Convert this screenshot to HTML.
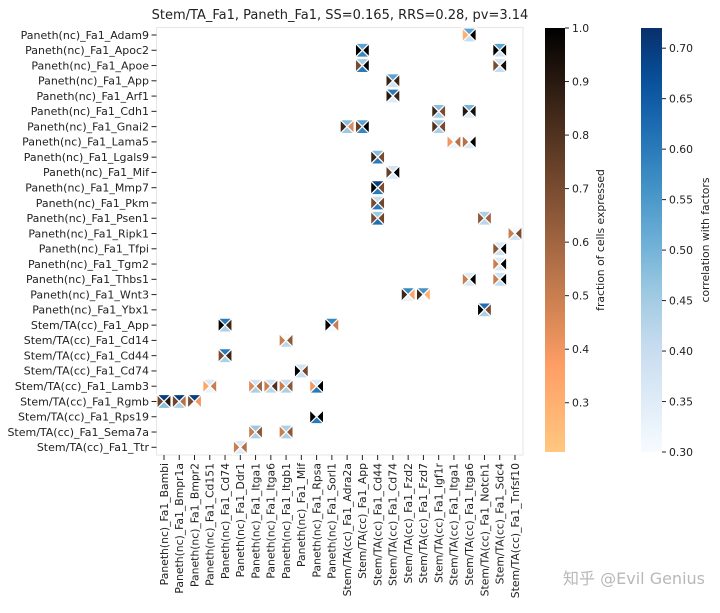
<!DOCTYPE html>
<html><head><meta charset="utf-8"><style>
html,body{margin:0;padding:0;background:#fff;}
svg text{font-family:"DejaVu Sans","Liberation Sans","Noto Sans CJK SC",sans-serif;fill:#222;}
</style></head><body>
<svg id="chart" width="720" height="608" viewBox="0 0 720 608" xmlns="http://www.w3.org/2000/svg">
<text x="340" y="19" font-size="13" text-anchor="middle">Stem/TA_Fa1, Paneth_Fa1, SS=0.165, RRS=0.28, pv=3.14</text>
<rect x="156.5" y="27.5" width="366.5" height="427.5" fill="none" stroke="#e6e6e6" stroke-width="1"/>
<g id="cells"></g><g id="yaxis"></g><g id="xaxis"></g><g id="cbars"></g>
<text x="705" y="584" font-size="16" text-anchor="end" style="fill:#b8b8b8">知乎 @Evil Genius</text>
</svg>
<script>
const rowLabels=["Paneth(nc)_Fa1_Adam9","Paneth(nc)_Fa1_Apoc2","Paneth(nc)_Fa1_Apoe","Paneth(nc)_Fa1_App","Paneth(nc)_Fa1_Arf1","Paneth(nc)_Fa1_Cdh1","Paneth(nc)_Fa1_Gnai2","Paneth(nc)_Fa1_Lama5","Paneth(nc)_Fa1_Lgals9","Paneth(nc)_Fa1_Mif","Paneth(nc)_Fa1_Mmp7","Paneth(nc)_Fa1_Pkm","Paneth(nc)_Fa1_Psen1","Paneth(nc)_Fa1_Ripk1","Paneth(nc)_Fa1_Tfpi","Paneth(nc)_Fa1_Tgm2","Paneth(nc)_Fa1_Thbs1","Paneth(nc)_Fa1_Wnt3","Paneth(nc)_Fa1_Ybx1","Stem/TA(cc)_Fa1_App","Stem/TA(cc)_Fa1_Cd14","Stem/TA(cc)_Fa1_Cd44","Stem/TA(cc)_Fa1_Cd74","Stem/TA(cc)_Fa1_Lamb3","Stem/TA(cc)_Fa1_Rgmb","Stem/TA(cc)_Fa1_Rps19","Stem/TA(cc)_Fa1_Sema7a","Stem/TA(cc)_Fa1_Ttr"];
const colLabels=["Paneth(nc)_Fa1_Bambi","Paneth(nc)_Fa1_Bmpr1a","Paneth(nc)_Fa1_Bmpr2","Paneth(nc)_Fa1_Cd151","Paneth(nc)_Fa1_Cd74","Paneth(nc)_Fa1_Ddr1","Paneth(nc)_Fa1_Itga1","Paneth(nc)_Fa1_Itga6","Paneth(nc)_Fa1_Itgb1","Paneth(nc)_Fa1_Mif","Paneth(nc)_Fa1_Rpsa","Paneth(nc)_Fa1_Sorl1","Stem/TA(cc)_Fa1_Adra2a","Stem/TA(cc)_Fa1_App","Stem/TA(cc)_Fa1_Cd44","Stem/TA(cc)_Fa1_Cd74","Stem/TA(cc)_Fa1_Fzd2","Stem/TA(cc)_Fa1_Fzd7","Stem/TA(cc)_Fa1_Igf1r","Stem/TA(cc)_Fa1_Itga1","Stem/TA(cc)_Fa1_Itga6","Stem/TA(cc)_Fa1_Notch1","Stem/TA(cc)_Fa1_Sdc4","Stem/TA(cc)_Fa1_Tnfsf10"];
const cellRow=[0,1,1,2,2,3,4,5,5,6,6,6,7,7,8,9,10,11,12,12,13,14,15,16,16,17,17,18,19,19,20,21,22,23,23,23,23,23,24,24,24,25,26,26,27];
const cellCol=[20,13,22,13,22,15,15,18,20,12,13,18,19,20,14,15,14,14,14,21,23,22,22,20,22,16,17,21,4,11,8,4,9,3,6,7,8,10,0,1,2,10,6,8,5];
const fracLeft=[0.3,1.0,1.0,0.7,0.7,0.85,0.9,0.85,0.9,0.85,0.75,0.8,0.4,0.55,0.85,0.75,1.0,0.7,0.7,0.65,0.5,0.65,0.5,0.5,0.5,0.85,0.85,1.0,1.0,1.0,0.5,0.7,1.0,0.35,0.45,0.5,0.5,0.4,0.72,0.72,0.7,1.0,0.5,0.5,0.5];
const fracRight=[1.0,1.0,1.0,1.0,0.95,0.85,0.85,0.7,0.95,0.45,1.0,0.7,0.55,1.0,0.7,1.0,0.7,0.72,0.72,0.6,0.7,1.0,1.0,1.0,1.0,0.35,0.3,0.7,0.85,0.5,0.65,0.85,0.72,0.5,0.6,0.8,0.65,1.0,0.9,0.55,0.4,1.0,0.65,0.65,0.55];
const corrTop=[0.53,0.53,0.53,0.45,0.38,0.53,0.6,0.48,0.5,0.48,0.53,0.46,0.3,0.3,0.48,0.38,0.7,0.4,0.46,0.44,0.3,0.36,0.35,0.35,0.38,0.58,0.56,0.62,0.6,0.58,0.3,0.6,0.38,0.36,0.38,0.38,0.4,0.36,0.7,0.7,0.7,0.3,0.46,0.44,0.36];
const corrBottom=[0.4,0.58,0.38,0.6,0.4,0.38,0.35,0.44,0.35,0.46,0.58,0.44,0.32,0.36,0.6,0.36,0.6,0.6,0.62,0.42,0.38,0.38,0.36,0.36,0.4,0.33,0.3,0.44,0.44,0.3,0.42,0.44,0.4,0.32,0.44,0.42,0.44,0.6,0.48,0.44,0.3,0.6,0.44,0.44,0.35];
const fracTicks=["1.0","0.9","0.8","0.7","0.6","0.5","0.4","0.3"];
const corrTicks=["0.70","0.65","0.60","0.55","0.50","0.45","0.40","0.35","0.30"];

const NS="http://www.w3.org/2000/svg";
function mk(tag,attrs,parent){const e=document.createElementNS(NS,tag);for(const k in attrs)e.setAttribute(k,attrs[k]);parent.appendChild(e);return e;}
const x0=164,dx=15.26,y0=35,dy=15.27,half=7;
const xPos=i=>x0+dx*i, yPos=j=>y0+dy*j;
const fMin=0.208,fMax=1.0,cMin=0.30,cMax=0.72;
const cbTop=28,cbBot=452;
function lerpHex(stops,t){t=Math.max(0,Math.min(1,t));const n=stops.length-1;const p=t*n;const i=Math.min(n-1,Math.floor(p));const f=p-i;
 const a=stops[i],b=stops[i+1];return "rgb("+[0,1,2].map(k=>Math.round(a[k]+(b[k]-a[k])*f)).join(",")+")";}
const copperStops=[];for(let k=0;k<=10;k++){const x=1-k/10;copperStops.push([Math.min(255,255*1.25*x),255*0.7812*x,255*0.4975*x]);}
const bluesStops=[[247,251,255],[222,235,247],[198,219,239],[158,202,225],[107,174,214],[66,146,198],[33,113,181],[8,81,156],[8,48,107]];
const fracColor=v=>lerpHex(copperStops,(v-fMin)/(fMax-fMin));
const corrColor=v=>lerpHex(bluesStops,(v-cMin)/(cMax-cMin));

const cells=document.getElementById('cells');
for(let i=0;i<cellRow.length;i++){
 const cx=xPos(cellCol[i]),cy=yPos(cellRow[i]);
 const g=mk('g',{},cells);
 
 
 const L=cx-half,R=cx+half,T=cy-half,B=cy+half;
 const tris=[[`${cx},${cy} ${L},${T} ${L},${B}`,fracColor(fracLeft[i]),'left'],[`${cx},${cy} ${R},${T} ${R},${B}`,fracColor(fracRight[i]),'right'],[`${cx},${cy} ${L},${T} ${R},${T}`,corrColor(corrTop[i]),'top'],[`${cx},${cy} ${L},${B} ${R},${B}`,corrColor(corrBottom[i]),'bottom']];
 for(const t of tris){const p=mk('polygon',{points:t[0],fill:t[1],stroke:'#fff','stroke-width':1.2,'stroke-linejoin':'miter'},g);
  
  }
}
const ya=document.getElementById('yaxis');
rowLabels.forEach((l,j)=>{const y=yPos(j);
 mk('line',{x1:151.5,x2:156.5,y1:y,y2:y,stroke:'#222','stroke-width':1},ya);
 const t=mk('text',{x:149,y:y+3.8,'font-size':11,'text-anchor':'end'},ya);t.textContent=l;
 
 });
const xa=document.getElementById('xaxis');
colLabels.forEach((l,i)=>{const x=xPos(i);
 mk('line',{x1:x,x2:x,y1:455,y2:460,stroke:'#222','stroke-width':1},xa);
 const t=mk('text',{x:0,y:0,'font-size':10.8,'text-anchor':'end',transform:`translate(${x+3.8},463) rotate(-90)`},xa);t.textContent=l;
 
 });
const cb=document.getElementById('cbars');
const defs=mk('defs',{},cb);
const g1=mk('linearGradient',{id:'gf',x1:0,y1:1,x2:0,y2:0},defs);
for(let k=0;k<=20;k++){const v=fMin+(fMax-fMin)*k/20;mk('stop',{offset:k/20,'stop-color':fracColor(v)},g1);}
const g2=mk('linearGradient',{id:'gc',x1:0,y1:1,x2:0,y2:0},defs);
for(let k=0;k<=20;k++){const v=cMin+(cMax-cMin)*k/20;mk('stop',{offset:k/20,'stop-color':corrColor(v)},g2);}
const r1=mk('rect',{x:545,y:cbTop,width:20,height:cbBot-cbTop,fill:'url(#gf)'},cb);


const r2=mk('rect',{x:641,y:cbTop,width:21,height:cbBot-cbTop,fill:'url(#gc)'},cb);


const fy=v=>cbBot-(v-fMin)/(fMax-fMin)*(cbBot-cbTop);
const cyv=v=>cbBot-(v-cMin)/(cMax-cMin)*(cbBot-cbTop);
fracTicks.forEach(s=>{const y=fy(parseFloat(s));mk('line',{x1:565,x2:569,y1:y,y2:y,stroke:'#222'},cb);
 const t=mk('text',{x:572,y:y+4,'font-size':10.8},cb);t.textContent=s;
 
 });
corrTicks.forEach(s=>{const y=cyv(parseFloat(s));mk('line',{x1:662,x2:666,y1:y,y2:y,stroke:'#222'},cb);
 const t=mk('text',{x:669,y:y+4,'font-size':10.8},cb);t.textContent=s;
 
 });
const l1=mk('text',{x:0,y:0,'font-size':10.8,'text-anchor':'middle',transform:'translate(604,240) rotate(-90)'},cb);l1.textContent='fraction of cells expressed';


const l2=mk('text',{x:0,y:0,'font-size':10.8,'text-anchor':'middle',transform:'translate(709,240) rotate(-90)'},cb);l2.textContent='correlation with factors';


</script>
</body></html>
